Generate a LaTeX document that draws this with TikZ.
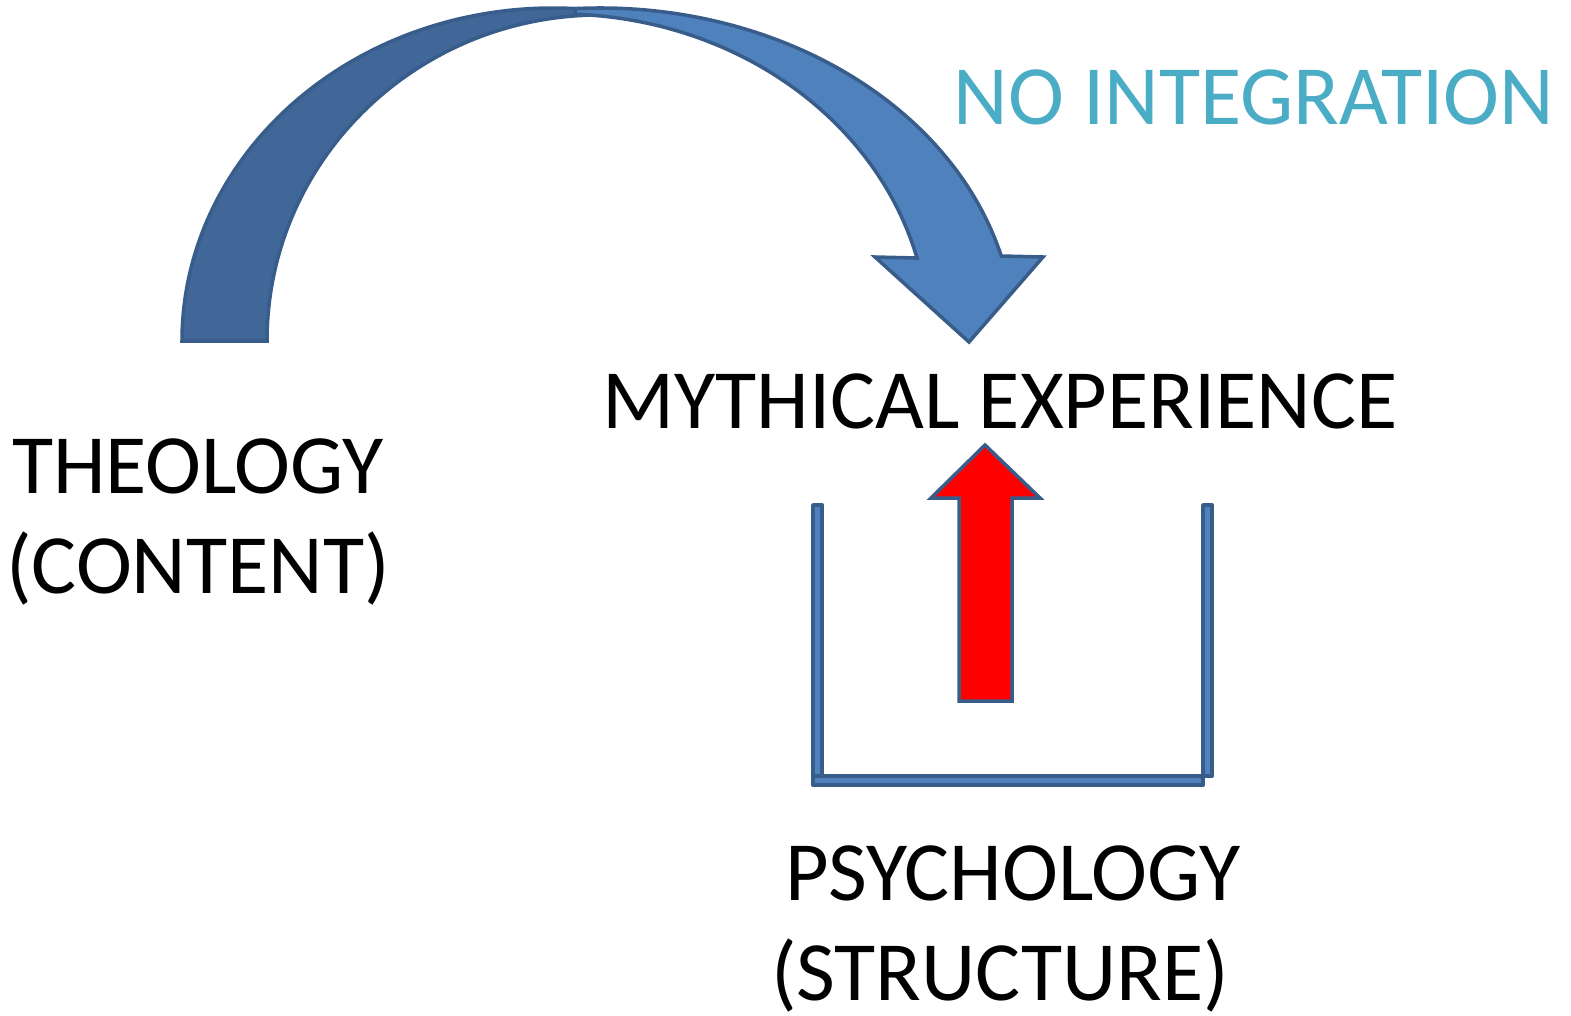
\documentclass[tikz,border=0pt]{standalone}
\usepackage{fontspec}
\setmainfont{Carlito}
\usetikzlibrary{positioning,calc}

\definecolor{bandDark}{RGB}{64,103,152}
\definecolor{bandLight}{RGB}{79,129,189}
\definecolor{bandLine}{RGB}{56,93,138}
\definecolor{aqua}{RGB}{75,172,198}

\begin{document}
\begin{tikzpicture}[
    txt/.style={inner sep=0pt, font=\fontsize{24}{29}\selectfont},
    band/.style={draw=bandLine, line width=1pt},
    bar/.style={draw=bandLine, fill=bandLight, line width=1.1pt, line join=round}
]
\useasboundingbox (0,0) rectangle (15.71,10.15);

% Curved arrow: back part going up
\draw[band, fill=bandDark] (1.82,6.74)
    arc[start angle=180, end angle=82.7, x radius=3.71, y radius=3.33]
    -- (6.00,10.00)
    arc[start angle=90, end angle=180, x radius=3.33, y radius=3.26]
    -- cycle;

% Curved arrow: front part with head
\draw[band, fill=bandLight] (5.75,10.064)
    arc[start angle=93.45, end angle=14.79, x radius=4.15, y radius=3.33]
    -- (10.43,7.58) -- (9.69,6.73) -- (8.75,7.58) -- (9.17,7.57)
    arc[start angle=14.70, end angle=87.67, x radius=3.69, y radius=3.27]
    -- cycle;

% Container
\draw[bar] (8.13,2.38) rectangle (8.22,5.10);
\draw[bar] (8.13,2.30) rectangle (12.03,2.39);
\draw[bar] (12.03,2.39) rectangle (12.12,5.10);

% Red arrow
\draw[band, fill=red] (9.59,3.14) -- (9.59,5.17) -- (9.31,5.17) -- (9.85,5.70)
    -- (10.40,5.17) -- (10.12,5.17) -- (10.12,3.14) -- cycle;

% Labels
\node[txt, anchor=base, text=aqua] (noint) at (12.54,8.91) {NO INTEGRATION};
\node[txt, anchor=base] (myth) at (10.00,5.87) {MYTHICAL EXPERIENCE};
\node[txt, anchor=base] (theology) at (1.98,5.22) {THEOLOGY};
\node[txt, anchor=base] (content) at ([yshift=-1cm]theology.base) {(CONTENT)};
\node[txt, anchor=base] (psych) at (10.13,1.15) {PSYCHOLOGY};
\node[txt, anchor=base] (struct) at ([xshift=-1.3mm, yshift=-1cm]psych.base) {(STRUCTURE)};

\end{tikzpicture}
\end{document}
